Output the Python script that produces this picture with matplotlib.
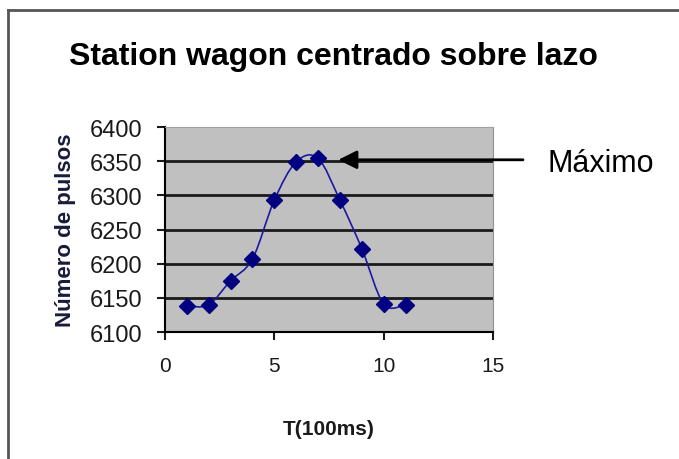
import numpy as np
import matplotlib.pyplot as plt
from matplotlib.path import Path
from matplotlib.patches import PathPatch
from matplotlib.lines import Line2D

plt.rcParams['font.family'] = ['Liberation Sans', 'DejaVu Sans']

# datos
tiempo = [1, 2, 3, 4, 5, 6, 7, 8, 9, 10, 11]
pulsos = [6138, 6140, 6175, 6207, 6293, 6349, 6354, 6293, 6222, 6141, 6140]
y_ticks = [6100, 6150, 6200, 6250, 6300, 6350, 6400]
x_ticks = [0, 5, 10, 15]
maximo = (7.8, 6352)

fig = plt.figure(figsize=(6.79, 4.60), dpi=100)
ax = fig.add_axes([165/679, 127/460, 328/679, 205/460])
ax.set_facecolor('#c0c0c0')

# linea suavizada (tipo Excel) con curvas de Bezier
px = np.array(tiempo, dtype=float)
py = np.array(pulsos, dtype=float)
verts = [(px[0], py[0])]
codes = [Path.MOVETO]
for i in range(len(px)-1):
    p0 = np.array([px[max(i-1, 0)], py[max(i-1, 0)]])
    p1 = np.array([px[i], py[i]])
    p2 = np.array([px[i+1], py[i+1]])
    p3 = np.array([px[min(i+2, len(px)-1)], py[min(i+2, len(px)-1)]])
    c1 = p1 + (p2 - p0) / 6
    c2 = p2 - (p3 - p1) / 6
    verts += [tuple(c1), tuple(c2), tuple(p2)]
    codes += [Path.CURVE4]*3
ax.add_patch(PathPatch(Path(verts, codes), fill=False, edgecolor='#1a1aa0', lw=1.2, zorder=3))
ax.plot(tiempo, pulsos, ls='none', marker='D', ms=8, color='#000080', zorder=4)

ax.set_xlim(0, 15)
ax.set_ylim(6100, 6400)
ax.set_xticks(x_ticks)
ax.set_yticks(y_ticks)
for v in y_ticks[1:-1]:
    ax.axhline(v, color='#1a1a1a', lw=2, zorder=1)

ax.spines['left'].set_color('black')
ax.spines['bottom'].set_color('black')
ax.spines['left'].set_linewidth(1.5)
ax.spines['bottom'].set_linewidth(1.5)
ax.spines['top'].set_color('#a0a0a0')
ax.spines['right'].set_color('#909090')
ax.tick_params(axis='y', direction='out', length=6, width=1.5, pad=10, labelsize=17, colors='#1a1a1a')
ax.tick_params(axis='x', direction='out', length=6, width=1.5, pad=11, labelsize=15, colors='#1a1a1a')

ax.set_ylabel('Número de pulsos', fontsize=16, fontweight='bold', color='#1a1a3a', labelpad=10)
ax.set_xlabel('T(100ms)', fontsize=15, fontweight='bold', color='#1a1a1a', labelpad=32)

ax.annotate('', xy=maximo, xytext=(16.5, maximo[1]), annotation_clip=False,
            arrowprops=dict(arrowstyle='-|>', color='black', lw=2, mutation_scale=28))
fig.text(548/679, 1-164/460, 'Máximo', fontsize=22, va='center', ha='left')

fig.text(333/679, 1-57/460, 'Station wagon centrado sobre lazo', fontsize=23,
         fontweight='bold', ha='center', va='center')

# marco exterior
fig.add_artist(Line2D([8/679, 8/679], [0, 1-11/460], transform=fig.transFigure, color='#555555', lw=2))
fig.add_artist(Line2D([8/679, 1], [1-11/460, 1-11/460], transform=fig.transFigure, color='#555555', lw=2))

fig.savefig('out.png', dpi=100)
